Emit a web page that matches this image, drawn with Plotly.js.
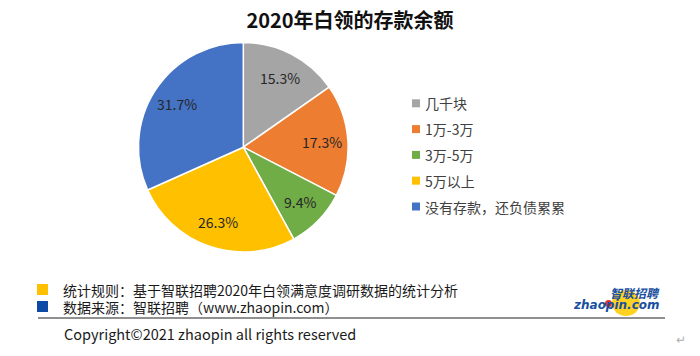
<!DOCTYPE html>
<html>
<head>
<meta charset="utf-8">
<script src="https://cdn.plot.ly/plotly-3.0.1.min.js"></script>
<style>html,body{margin:0;padding:0;background:#fff;}#chart{width:700px;height:356px;}</style>
</head>
<body>
<div id="chart"></div>
<script>
const categories = ["几千块", "1万-3万", "3万-5万", "5万以上", "没有存款，还负债累累"];
const values = [15.3, 17.3, 9.4, 26.3, 31.7];
const sliceColors = ["#A5A5A5", "#ED7D31", "#70AD47", "#FFC000", "#4472C4"];
const titleText = "2020年白领的存款余额";
const noteLines = ["统计规则：基于智联招聘2020年白领满意度调研数据的统计分析", "数据来源：智联招聘（www.zhaopin.com）"];
const noteColors = ["#FFC000", "#0D4AA6"];
const copyrightText = "Copyright©2021 zhaopin all rights reserved";

const W = 700, H = 356;
const px = x => x / W;
const py = y => 1 - y / H;
const FONT = '"Noto Sans CJK SC", "Noto Sans", sans-serif';

const cx = 243.3, cy = 147.2, r = 104.8;

const trace = {
  type: 'pie',
  labels: categories,
  values: values,
  sort: false,
  direction: 'clockwise',
  rotation: 0,
  marker: {colors: sliceColors, line: {color: '#ffffff', width: 1.5}},
  textinfo: 'none',
  hoverinfo: 'none',
  showlegend: false,
  domain: {x: [px(cx - r), px(cx + r)], y: [py(cy + r), py(cy - r)]}
};

const shapes = [];
const annotations = [];

// data labels placed at slice mid-angles (clockwise from 12 o'clock)
const total = values.reduce((a, b) => a + b, 0);
let acc = 0;
values.forEach((v, i) => {
  const mid = (acc + v / 2) / total * 2 * Math.PI;
  acc += v;
  const d = 0.75 * r;
  const x = cx + d * Math.sin(mid), y = cy - d * Math.cos(mid);
  annotations.push({xref: 'paper', yref: 'paper', x: px(x), y: py(y),
    xanchor: 'center', yanchor: 'middle', showarrow: false,
    text: v.toFixed(1) + '%',
    font: {family: FONT, size: 14, color: '#262626'}});
});

// manual legend
const legX = 412, legY0 = 103.3, legStep = 25.8, sq = 8;
categories.forEach((c, i) => {
  const y = legY0 + i * legStep;
  shapes.push({type: 'rect', xref: 'paper', yref: 'paper',
    x0: px(legX), x1: px(legX + sq), y0: py(y + sq / 2), y1: py(y - sq / 2),
    fillcolor: sliceColors[i], line: {width: 0}});
  annotations.push({xref: 'paper', yref: 'paper', x: px(legX + 11), y: py(y),
    xanchor: 'left', yanchor: 'middle', showarrow: false, text: c,
    font: {family: FONT, size: 14, color: '#404040'}});
});

// footnotes
const noteY = [289.5, 306.5];
noteLines.forEach((t, i) => {
  shapes.push({type: 'rect', xref: 'paper', yref: 'paper',
    x0: px(37), x1: px(48), y0: py(noteY[i] + 5.5), y1: py(noteY[i] - 5.5),
    fillcolor: noteColors[i], line: {width: 0}});
  annotations.push({xref: 'paper', yref: 'paper', x: px(61), y: py(noteY[i]),
    xanchor: 'left', yanchor: 'middle', showarrow: false, text: t,
    font: {family: FONT, size: 14, color: '#1a1a1a'}});
});

// separator line
shapes.push({type: 'line', xref: 'paper', yref: 'paper',
  x0: px(38), x1: px(665), y0: py(318), y1: py(318),
  line: {color: '#222222', width: 1.2}});

annotations.push({xref: 'paper', yref: 'paper', x: px(62), y: py(333),
  xanchor: 'left', yanchor: 'middle', showarrow: false, text: copyrightText,
  font: {family: FONT, size: 14.5, color: '#1a1a1a'}});

// logo
shapes.push({type: 'circle', xref: 'paper', yref: 'paper',
  x0: px(612), x1: px(640), y0: py(316), y1: py(290),
  fillcolor: '#FFD21F', line: {width: 0}, layer: 'below'});
shapes.push({type: 'circle', xref: 'paper', yref: 'paper',
  x0: px(605), x1: px(612), y0: py(307), y1: py(300),
  fillcolor: '#E0301E', line: {width: 0}});
annotations.push({xref: 'paper', yref: 'paper', x: px(662), y: py(292),
  xanchor: 'right', yanchor: 'middle', showarrow: false, text: '<b><i>智联招聘</i></b>',
  font: {family: FONT, size: 12, color: '#1A4FA0'}});
annotations.push({xref: 'paper', yref: 'paper', x: px(662), y: py(304.5),
  xanchor: 'right', yanchor: 'middle', showarrow: false, text: '<b><i>zhaopin.com</i></b>',
  font: {family: '"DejaVu Sans", sans-serif', size: 12, color: '#1A4FA0'}});

// return mark
annotations.push({xref: 'paper', yref: 'paper', x: px(681), y: py(338),
  xanchor: 'center', yanchor: 'middle', showarrow: false, text: '↵',
  font: {family: FONT, size: 12, color: '#b0b0b0'}});

const layout = {
  width: W, height: H,
  margin: {l: 0, r: 0, t: 0, b: 0},
  paper_bgcolor: '#ffffff',
  plot_bgcolor: '#ffffff',
  title: {text: '<b>' + titleText + '</b>', x: 0.5, xanchor: 'center', y: py(21), yanchor: 'middle',
    font: {family: FONT, size: 20, color: '#111111'}},
  showlegend: false,
  shapes: shapes,
  annotations: annotations
};

Plotly.newPlot('chart', [trace], layout, {staticPlot: true, displayModeBar: false});
</script>
</body>
</html>
